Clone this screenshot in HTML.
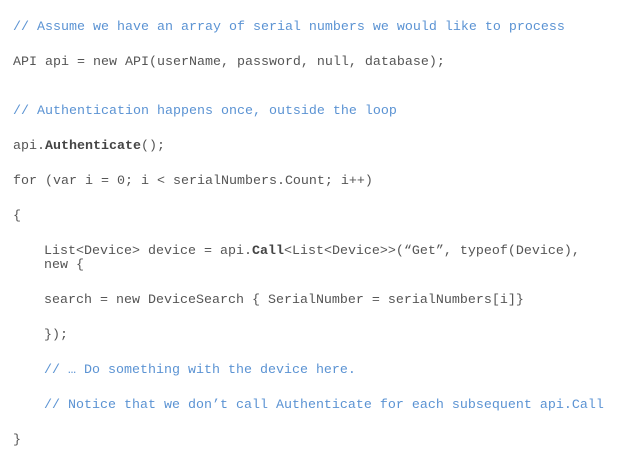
<!DOCTYPE html>
<html><head><meta charset="utf-8"><style>
html,body{margin:0;padding:0;background:#fff;width:619px;height:470px;overflow:hidden}
.l{position:absolute;font-family:"Liberation Mono",monospace;font-size:13.33px;line-height:16px;color:#555;white-space:pre}
.c{color:#5b93d3}
b{color:#444}
</style></head><body>
<div class="l c" style="left:13px;top:20px">// Assume we have an array of serial numbers we would like to process</div>
<div class="l" style="left:13px;top:55px">API api = new API(userName, password, null, database);</div>
<div class="l c" style="left:13px;top:104px">// Authentication happens once, outside the loop</div>
<div class="l" style="left:13px;top:139px">api.<b>Authenticate</b>();</div>
<div class="l" style="left:13px;top:174px">for (var i = 0; i &lt; serialNumbers.Count; i++)</div>
<div class="l" style="left:13px;top:209px">{</div>
<div class="l" style="left:44px;top:244px">List&lt;Device&gt; device = api.<b>Call</b>&lt;List&lt;Device&gt;&gt;(“Get”, typeof(Device),</div>
<div class="l" style="left:44px;top:258px">new {</div>
<div class="l" style="left:44px;top:293px">search = new DeviceSearch { SerialNumber = serialNumbers[i]}</div>
<div class="l" style="left:44px;top:328px">});</div>
<div class="l c" style="left:44px;top:363px">// … Do something with the device here.</div>
<div class="l c" style="left:44px;top:398px">// Notice that we don’t call Authenticate for each subsequent api.Call</div>
<div class="l" style="left:13px;top:433px">}</div>
</body></html>
